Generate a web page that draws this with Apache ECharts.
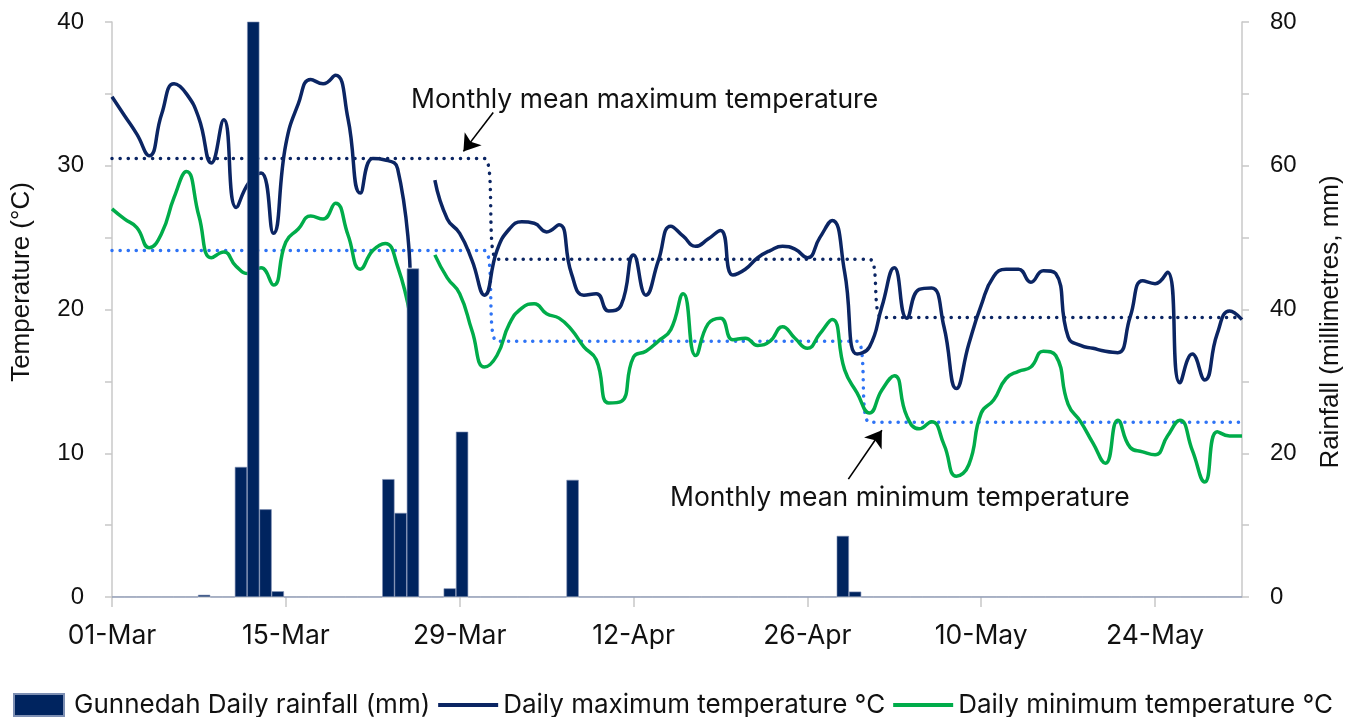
<!DOCTYPE html>
<html>
<head>
<meta charset="utf-8">
<script src="https://cdn.jsdelivr.net/npm/echarts@6/dist/echarts.min.js"></script>
<style>
  html, body { margin: 0; padding: 0; background: #fff; }
  #chart { width: 1359px; height: 717px; }
</style>
</head>
<body>
<div id="chart"></div>
<script>
// day index 0 = 01-Mar, 91 = 31-May
const xTickLabels = ['01-Mar', '15-Mar', '29-Mar', '12-Apr', '26-Apr', '10-May', '24-May'];
const xTickStep = 14;

// Gunnedah daily rainfall (mm)
const rainfall = [
  0, 0, 0, 0, 0, 0, 0, 0.3, 0, 0,
  18.1, 86, 12.2, 0.8, 0, 0, 0, 0, 0, 0,
  0, 0, 16.4, 11.7, 45.7, 0, 0, 1.2, 23.0, 0,
  0, 0, 0, 0, 0, 0, 0, 16.3, 0, 0,
  0, 0, 0, 0, 0, 0, 0, 0, 0, 0,
  0, 0, 0, 0, 0, 0, 0, 0, 0, 8.5,
  0.75, 0, 0, 0, 0, 0, 0, 0, 0, 0,
  0, 0, 0, 0, 0, 0, 0, 0, 0, 0,
  0, 0, 0, 0, 0, 0, 0, 0, 0, 0,
  0, 0
];

// daily maximum temperature (°C)
const tmax = [
  34.8, 33.5, 32.2, 30.7, 33.6, 35.7, 35.0, 33.3, 30.2, 33.2,
  27.1, 28.8, 29.5, 25.3, 31.5, 34.3, 36.0, 35.7, 36.3, 33.3,
  28.1, 30.5, 30.4, 29.8, 22.9, null, 29.0, 26.3, 25.3, 23.4,
  21.0, 24.1, 25.6, 26.1, 26.0, 25.4, 25.9, 22.5, 21.0, 21.1,
  19.9, 20.3, 23.8, 21.0, 23.4, 25.8, 25.1, 24.4, 24.9, 25.5,
  22.4, 22.8, 23.6, 24.1, 24.4, 24.2, 23.6, 25.0, 26.2, 22.6,
  16.9, 17.4, 20.2, 22.9, 19.4, 21.4, 21.5, 18.8, 14.5, 17.6,
  20.3, 22.3, 22.8, 22.8, 21.9, 22.7, 22.5, 18.1, 17.5, 17.3,
  17.1, 17.0, 19.5, 22.0, 21.8, 22.6, 14.9, 16.9, 15.1, 18.3,
  19.9, 19.3
];

// daily minimum temperature (°C)
const tmin = [
  27.0, 26.3, 25.7, 24.3, 25.3, 27.8, 29.6, 26.5, 23.6, 24.0,
  23.0, 22.5, 22.9, 21.7, 24.7, 25.6, 26.5, 26.3, 27.4, 25.2,
  22.8, 24.1, 24.6, 23.0, 19.6, null, 23.8, 22.2, 21.1, 18.5,
  16.0, 16.8, 19.0, 20.1, 20.4, 19.7, 19.4, 18.6, 17.4, 16.5,
  13.5, 13.6, 16.7, 17.1, 17.8, 18.6, 21.1, 16.8, 19.0, 19.4,
  17.9, 18.0, 17.5, 17.8, 18.8, 18.0, 17.3, 18.3, 19.3, 15.8,
  14.2, 12.8, 14.4, 15.4, 12.6, 11.7, 12.2, 10.6, 8.4, 9.2,
  12.8, 13.7, 15.2, 15.7, 16.0, 17.1, 16.8, 13.4, 12.2, 10.7,
  9.3, 12.3, 10.4, 10.1, 9.9, 11.2, 12.3, 10.2, 8.0, 11.5,
  11.2, 11.2
];

// monthly means (Mar, Apr, May) and the day each value starts on
const meanMaxMonthly = [30.5, 23.5, 19.45];
const meanMaxStart = [0, 31, 62];
const meanMinMonthly = [24.1, 17.8, 12.15];
const meanMinStart = [0, 31, 61];

const days = tmax.map((_, i) => i);

function expandSteps(values, starts) {
  return days.map(d => {
    let k = 0;
    for (let j = 0; j < starts.length; j++) if (d >= starts[j]) k = j;
    return [d, values[k]];
  });
}

const chart = echarts.init(document.getElementById('chart'));

const axisGray = '#c8c8c8';
const labelFont = 'Inter, "Noto Sans", sans-serif';
const numFont = '"Liberation Sans", Arial, sans-serif';

const option = {
  animation: false,
  grid: { left: 112, right: 117, top: 22, bottom: 120 },
  legend: {
    left: 8,
    top: 687,
    itemWidth: 60,
    itemHeight: 22,
    itemGap: 8,
    textStyle: { fontFamily: labelFont, fontSize: 26, color: '#111' },
    data: [
      { name: 'Gunnedah Daily rainfall (mm)', icon: 'path://M0,0H50V22H0Z' },
      { name: 'Daily maximum temperature °C', icon: 'path://M0,0H15V1H0Z' },
      { name: 'Daily minimum temperature °C', icon: 'path://M0,0H15V1H0Z' }
    ]
  },
  xAxis: [
    {
      type: 'value',
      min: 0,
      max: days.length - 1,
      position: 'bottom',
      axisLine: { show: true, lineStyle: { color: axisGray, width: 1.5 } },
      axisTick: {
        show: true, length: 10, lineStyle: { color: axisGray, width: 1.5 },
        customValues: xTickLabels.map((_, i) => i * xTickStep)
      },
      axisLabel: {
        customValues: xTickLabels.map((_, i) => i * xTickStep),
        formatter: v => xTickLabels[v / xTickStep] || '',
        fontFamily: labelFont, fontSize: 26.5, color: '#111', margin: 26
      },
      splitLine: { show: false }
    },
    {
      type: 'category',
      data: days,
      position: 'top',
      boundaryGap: true,
      axisLine: { show: true, lineStyle: { color: '#e0e0e0', width: 1 } },
      axisTick: { show: false },
      axisLabel: { show: false },
      splitLine: { show: false }
    }
  ],
  yAxis: [
    {
      type: 'value',
      min: 0, max: 40, interval: 10,
      position: 'left',
      axisLine: { show: true, lineStyle: { color: axisGray, width: 1.5 } },
      axisTick: { show: true, length: 7, lineStyle: { color: axisGray, width: 1.5 } },
      minorTick: { show: true, splitNumber: 2, length: 7, lineStyle: { color: axisGray, width: 1.5 } },
      axisLabel: { fontFamily: numFont, fontSize: 24, color: '#111', margin: 28 },
      splitLine: { show: false }
    },
    {
      type: 'value',
      min: 0, max: 80, interval: 20,
      position: 'right',
      axisLine: { show: true, lineStyle: { color: axisGray, width: 1.5 } },
      axisTick: { show: true, length: 7, lineStyle: { color: axisGray, width: 1.5 } },
      minorTick: { show: true, splitNumber: 2, length: 7, lineStyle: { color: axisGray, width: 1.5 } },
      axisLabel: { fontFamily: numFont, fontSize: 24, color: '#111', margin: 28 },
      splitLine: { show: false }
    }
  ],
  graphic: [
    {
      type: 'text', rotation: Math.PI / 2,
      x: 22, y: 282,
      style: { text: 'Temperature (°C)', font: '26px ' + numFont, fill: '#111', align: 'center', verticalAlign: 'middle' }
    },
    {
      type: 'text', rotation: Math.PI / 2,
      x: 1331, y: 322,
      style: { text: 'Rainfall (millimetres, mm)', font: '26px ' + numFont, fill: '#111', align: 'center', verticalAlign: 'middle' }
    },
    {
      type: 'text', x: 411, y: 100,
      style: { text: 'Monthly mean maximum temperature', font: '26.5px ' + labelFont, fill: '#111', align: 'left', verticalAlign: 'middle' }
    },
    {
      type: 'text', x: 670, y: 498,
      style: { text: 'Monthly mean minimum temperature', font: '26.5px ' + labelFont, fill: '#111', align: 'left', verticalAlign: 'middle' }
    }
  ],
  series: [
    {
      name: 'Monthly mean maximum temperature',
      type: 'line',
      xAxisIndex: 0, yAxisIndex: 0,
      data: expandSteps(meanMaxMonthly, meanMaxStart),
      smooth: 0.5,
      showSymbol: false,
      z: 2,
      lineStyle: { color: '#0b2563', width: 3.5, type: [0.1, 8], cap: 'round' },
      markLine: {
        silent: true,
        symbol: ['none', 'arrow'],
        symbolSize: 16,
        label: { show: false },
        lineStyle: { color: '#000', width: 1.6, type: 'solid' },
        data: [[{ coord: [30.7, 33.7] }, { coord: [28.3, 31.0] }]]
      }
    },
    {
      name: 'Monthly mean minimum temperature',
      type: 'line',
      xAxisIndex: 0, yAxisIndex: 0,
      data: expandSteps(meanMinMonthly, meanMinStart),
      smooth: 0.5,
      showSymbol: false,
      z: 2,
      lineStyle: { color: '#2e73f5', width: 3.5, type: [0.1, 8], cap: 'round' },
      markLine: {
        silent: true,
        symbol: ['none', 'arrow'],
        symbolSize: 16,
        label: { show: false },
        lineStyle: { color: '#000', width: 1.6, type: 'solid' },
        data: [[{ coord: [59.3, 8.2] }, { coord: [62.0, 11.6] }]]
      }
    },
    {
      name: 'Daily maximum temperature °C',
      type: 'line',
      xAxisIndex: 0, yAxisIndex: 0,
      data: days.map(d => [d, tmax[d]]),
      smooth: 0.5,
      showSymbol: false,
      connectNulls: false,
      z: 3,
      itemStyle: { color: '#0b2563' },
      lineStyle: { color: '#0b2563', width: 3.5 }
    },
    {
      name: 'Daily minimum temperature °C',
      type: 'line',
      xAxisIndex: 0, yAxisIndex: 0,
      data: days.map(d => [d, tmin[d]]),
      smooth: 0.5,
      showSymbol: false,
      connectNulls: false,
      z: 3,
      itemStyle: { color: '#00ac4a' },
      lineStyle: { color: '#00ac4a', width: 3.5 }
    },
    {
      name: 'Gunnedah Daily rainfall (mm)',
      type: 'bar',
      xAxisIndex: 1, yAxisIndex: 1,
      data: rainfall,
      barWidth: '100%',
      clip: true,
      z: 4,
      itemStyle: { color: '#00245f', borderColor: '#7d8fb3', borderWidth: 0.6 }
    }
  ]
};

chart.setOption(option);
</script>
</body>
</html>
